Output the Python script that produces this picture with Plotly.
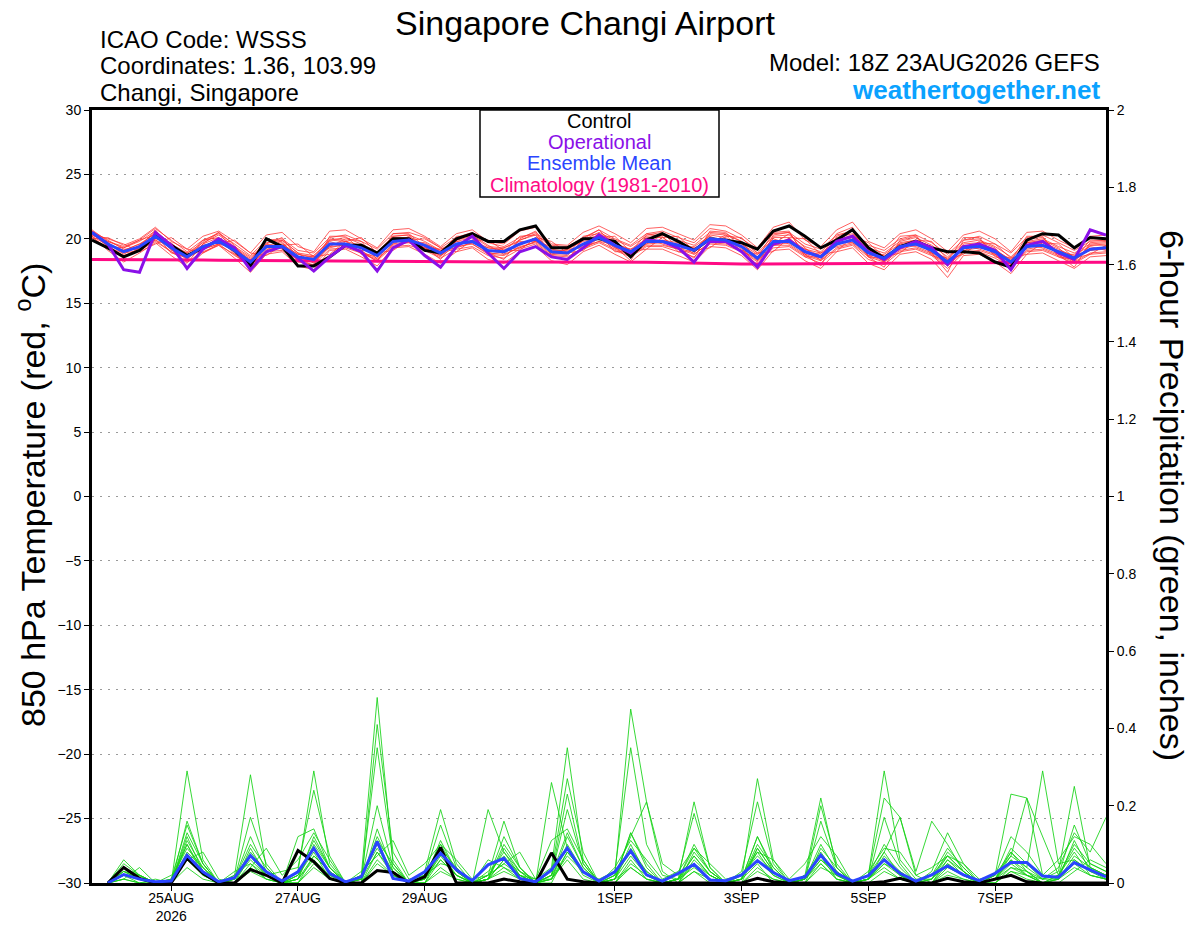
#Importing necessary modules.
import pandas as pd
import plotly.graph_objects as go

#Forecast valid times, every 6 hours from the 18Z 23AUG2026 GEFS run.
times        = pd.date_range("2026-08-23 18:00", periods=65, freq="6h")
precip_times = times[1:]

#850 hPa temperature (C).
t_control     = [19.9,19.3,18.6,19.1,20.2,19.5,18.7,19.3,19.9,19.1,
                 17.9,20.0,19.4,17.9,17.9,18.6,19.5,19.5,18.9,20.0,
                 20.0,19.1,18.9,20.0,20.4,19.8,19.8,20.7,21.0,19.3,
                 19.3,20.0,20.0,19.8,18.6,19.9,20.4,19.8,19.1,20.0,
                 19.9,19.7,19.2,20.6,21.0,20.2,19.3,19.9,20.7,19.3,
                 18.5,19.4,19.8,19.3,19.0,19.0,18.9,18.2,17.8,19.9,
                 20.4,20.3,19.3,20.1,20.0]
t_operational = [20.5,19.6,17.6,17.4,20.5,19.5,17.7,19.2,20.0,19.3,
                 17.6,19.0,19.4,18.5,17.5,18.6,19.5,19.0,17.5,19.3,
                 19.9,18.7,17.8,19.4,20.2,18.9,17.7,19.0,19.4,18.6,
                 18.4,19.3,20.3,19.5,18.9,19.9,19.8,19.3,18.2,19.8,
                 19.8,19.0,17.8,19.6,19.9,19.0,18.6,19.8,20.2,19.0,
                 18.4,19.3,19.8,19.3,18.0,19.4,19.6,19.1,17.6,19.5,
                 19.8,18.9,18.4,20.7,20.3]
t_mean        = [20.5,19.6,19.0,19.4,20.2,19.3,18.6,19.4,19.8,19.1,
                 18.2,19.4,19.4,18.6,18.4,19.6,19.6,19.3,18.7,19.8,
                 19.9,19.5,18.9,19.6,19.8,19.1,19.0,19.6,20.0,19.0,
                 18.9,19.6,20.1,19.5,19.0,19.8,19.8,19.5,19.1,20.0,
                 19.9,19.4,18.5,19.8,19.8,19.0,18.6,19.6,19.9,18.9,
                 18.5,19.4,19.6,19.1,18.2,19.3,19.4,19.0,18.2,19.4,
                 19.5,19.0,18.5,19.2,19.3]
t_climo       = [18.40,18.40,18.39,18.38,18.38,18.37,18.36,18.35,18.34,18.33,
                 18.32,18.31,18.30,18.29,18.28,18.27,18.26,18.25,18.25,18.24,
                 18.24,18.23,18.23,18.22,18.22,18.22,18.21,18.21,18.21,18.21,
                 18.21,18.22,18.22,18.22,18.21,18.19,18.16,18.13,18.10,18.08,
                 18.06,18.05,18.04,18.04,18.04,18.05,18.06,18.07,18.08,18.09,
                 18.10,18.11,18.12,18.13,18.14,18.15,18.16,18.17,18.17,18.18,
                 18.18,18.18,18.19,18.19,18.19]

#Ensemble members (temperature).
t_mem01 = [20.3,19.8,19.3,19.8,20.6,19.6,18.9,19.7,20.3,19.4,18.6,19.7,19.9,18.9,18.7,19.9,20.1,19.6,19.0,20.2,
           20.3,19.8,19.1,19.9,20.2,19.4,19.3,19.9,20.4,19.3,19.2,19.9,20.5,19.9,19.4,20.2,20.3,19.9,19.5,20.5,
           20.4,19.8,18.9,20.2,20.3,19.4,19.0,20.1,20.4,19.3,18.9,19.8,20.1,19.5,18.6,19.7,19.9,19.4,18.6,19.8,
           20.0,19.4,18.9,19.6,19.7]
t_mem02 = [20.4,19.4,18.7,19.1,19.9,19.0,18.2,19.0,19.5,18.8,17.8,19.0,19.1,18.2,18.0,19.2,19.3,18.9,18.3,19.4,
           19.5,19.1,18.5,19.2,19.4,18.7,18.5,19.2,19.6,18.6,18.4,19.2,19.7,19.1,18.6,19.4,19.4,19.0,18.6,19.6,
           19.5,19.0,18.0,19.3,19.4,18.6,18.1,19.2,19.5,18.4,18.0,19.0,19.2,18.7,17.7,18.9,19.0,18.5,17.8,19.0,
           19.1,18.6,18.1,18.8,18.9]
t_mem03 = [20.6,19.9,19.2,19.2,20.0,19.7,18.4,19.8,20.5,19.5,18.0,19.1,19.9,18.9,18.1,19.4,20.0,19.8,18.4,19.6,
           20.2,19.2,18.6,20.0,20.3,19.5,18.8,19.3,19.8,19.4,19.2,19.3,20.4,19.8,18.7,19.6,20.3,19.8,18.8,19.7,
           20.3,19.8,18.3,19.6,20.4,19.3,18.3,19.9,20.3,19.2,18.2,19.7,19.9,19.4,18.0,19.0,19.8,19.3,18.0,19.7,
           19.9,19.3,18.2,19.5,19.6]
t_mem04 = [20.2,19.5,19.1,19.6,20.4,19.1,18.8,19.2,19.6,19.3,18.5,19.6,19.2,18.4,18.7,19.8,19.4,19.1,19.0,19.9,
           19.7,19.3,19.2,19.8,19.6,18.9,19.3,19.8,19.8,18.8,19.2,19.8,20.0,19.3,19.2,20.0,19.6,19.2,19.4,20.2,
           19.7,19.1,18.8,20.0,19.6,18.8,18.9,19.8,19.7,18.7,18.8,19.6,19.4,18.9,18.5,19.5,19.2,18.8,18.5,19.6,
           19.3,18.8,18.8,19.4,19.1]
t_mem05 = [20.5,19.7,18.8,19.5,20.5,19.2,18.4,19.6,20.1,18.9,18.1,19.5,19.7,18.4,18.2,19.9,19.8,19.0,18.5,20.1,
           20.1,19.3,18.7,19.8,20.1,18.9,18.8,19.9,20.3,18.8,18.7,19.9,20.3,19.3,18.8,20.1,20.1,19.3,18.9,20.3,
           20.1,19.2,18.3,20.1,20.1,18.8,18.4,19.9,20.2,18.7,18.3,19.6,19.9,18.9,18.0,19.6,19.7,18.8,18.0,19.7,
           19.8,18.8,18.3,19.5,19.5]
t_mem06 = [20.7,19.8,19.4,19.9,20.8,19.9,19.0,19.9,20.4,19.6,18.7,19.9,20.0,19.1,18.9,20.1,20.3,19.8,19.2,20.4,
           20.5,20.1,19.3,20.1,20.5,19.7,19.4,20.1,20.5,19.5,19.4,20.1,20.7,20.0,19.5,20.4,20.6,20.1,19.7,20.8,
           20.6,20.0,19.2,20.4,20.5,19.6,19.2,20.3,20.6,19.5,19.1,20.0,20.3,19.7,18.8,19.9,20.2,19.6,18.9,20.1,
           20.3,19.7,19.1,19.8,19.9]
t_mem07 = [20.1,19.3,18.9,19.1,19.8,19.0,18.5,19.2,19.6,18.7,18.0,19.2,19.3,18.3,18.2,19.4,19.5,18.9,18.4,19.5,
           19.7,19.3,18.7,19.4,19.6,18.8,18.7,19.4,19.7,18.7,18.6,19.3,19.8,19.2,18.7,19.5,19.5,19.2,18.8,19.7,
           19.6,19.1,18.2,19.5,19.5,18.7,18.3,19.3,19.6,18.6,18.2,19.1,19.3,18.8,17.9,19.0,19.1,18.7,17.9,19.1,
           19.2,18.7,18.2,18.9,19.0]
t_mem08 = [20.4,19.6,19.1,19.6,20.1,19.5,18.7,19.3,19.9,19.3,18.3,19.3,19.6,18.8,18.5,19.5,19.8,19.5,18.8,19.8,
           19.8,19.7,19.0,19.5,19.9,19.3,19.1,19.5,20.1,19.2,19.0,19.5,20.0,19.7,19.1,19.7,19.9,19.7,19.2,19.9,
           19.9,19.6,18.6,19.6,20.0,19.2,18.7,19.5,20.0,19.1,18.6,19.3,19.7,19.3,18.3,19.2,19.6,19.2,18.3,19.3,
           19.7,19.2,18.6,19.1,19.4]
t_mem09 = [20.6,19.5,18.6,19.3,20.7,19.2,18.1,19.6,20.5,19.0,17.7,19.6,20.1,18.5,17.9,20.2,20.2,19.1,18.2,20.4,
           20.4,19.4,18.4,19.9,20.4,18.9,18.4,20.0,20.6,18.7,18.3,20.0,20.7,19.4,18.3,20.3,20.5,19.3,18.5,20.6,
           20.5,19.3,17.9,20.3,20.5,18.8,17.9,20.2,20.6,18.6,17.8,19.9,20.2,18.9,17.4,19.9,20.0,18.8,17.5,20.0,
           20.1,18.8,17.8,19.7,19.8]
t_mem10 = [20.3,19.7,19.0,19.3,19.9,19.4,18.9,19.5,19.7,19.2,18.4,19.3,19.5,18.8,18.6,19.3,19.6,19.5,18.9,19.6,
           19.8,19.6,19.1,19.3,19.7,19.3,19.2,19.3,19.8,19.1,19.1,19.4,19.8,19.6,19.2,19.6,19.7,19.6,19.3,19.8,
           19.8,19.6,18.8,19.5,19.7,19.2,18.9,19.4,19.7,19.0,18.7,19.2,19.5,19.2,18.4,19.1,19.3,19.1,18.4,19.2,
           19.4,19.1,18.7,19.1,19.2]
t_mem11 = [20.0,20.1,19.5,20.0,20.9,19.8,19.2,20.2,20.6,19.8,18.9,20.3,20.5,19.4,19.0,20.6,20.7,20.0,19.3,20.7,
           20.8,20.2,19.4,20.4,20.7,19.8,19.6,20.6,20.9,19.6,19.5,20.5,21.0,20.4,19.7,20.8,20.9,20.4,19.9,21.1,
           21.0,20.3,19.3,20.9,21.3,19.9,19.4,20.7,21.3,19.8,19.3,20.4,20.7,20.0,19.0,20.3,20.6,20.0,19.0,20.5,
           20.6,19.9,19.3,20.2,20.3]
t_mem12 = [20.2,19.1,18.2,18.9,19.7,18.7,17.8,18.9,19.5,18.5,17.4,18.8,19.0,17.9,17.6,19.1,19.2,18.6,17.9,19.3,
           19.4,18.8,18.1,19.0,19.3,18.4,18.1,19.0,19.4,18.3,18.0,19.0,19.5,18.8,18.2,19.2,19.2,18.7,18.2,19.4,
           19.3,18.7,17.6,19.1,19.2,18.3,17.7,19.0,19.3,18.1,17.6,18.8,19.0,18.4,17.0,18.7,18.8,18.2,17.3,18.8,
           18.9,18.3,17.7,18.6,18.7]
t_mem13 = [20.4,20.0,19.6,19.0,19.6,20.1,19.2,18.9,19.6,19.9,18.9,18.7,19.5,19.6,18.6,18.8,19.8,20.1,18.9,19.1,
           19.9,20.0,19.3,19.0,19.9,19.9,19.1,19.1,20.1,19.8,18.9,19.1,20.1,20.2,19.0,19.2,20.1,20.2,19.1,19.3,
           20.2,20.1,18.9,19.0,20.1,20.0,18.8,19.0,20.2,19.7,18.6,18.9,19.9,19.8,18.4,18.8,19.7,19.6,18.5,18.8,
           19.7,19.6,18.5,18.8,19.5]
t_mem14 = [20.6,19.4,19.3,19.9,20.3,18.9,18.6,19.9,20.1,18.8,18.3,19.9,19.8,18.3,18.5,20.0,19.9,18.8,18.7,20.2,
           20.3,19.2,18.9,20.2,20.2,18.8,19.0,20.2,20.3,18.9,18.8,20.2,20.4,19.0,19.0,20.4,20.2,19.0,19.1,20.4,
           20.3,19.0,18.5,20.5,20.6,18.6,18.6,20.4,20.9,18.6,18.5,20.2,20.3,18.7,18.3,20.1,20.1,18.6,18.3,20.2,
           20.2,18.6,18.4,19.9,19.9]
temp_members = [t_mem01, t_mem02, t_mem03, t_mem04, t_mem05, t_mem06, t_mem07,
                t_mem08, t_mem09, t_mem10, t_mem11, t_mem12, t_mem13, t_mem14]

#6-hour precipitation (inches), starting at hour 6.
p_control = [0, 0.04, 0.012, 0, 0, 0.064, 0.025, 0,
             0, 0.035, 0.02, 0, 0.084, 0.055, 0.012, 0,
             0, 0.032, 0.027, 0, 0.016, 0.092, 0, 0,
             0, 0.01, 0.003, 0, 0.078, 0.01, 0.003, 0,
             0, 0, 0, 0, 0, 0, 0, 0,
             0, 0.012, 0.003, 0, 0, 0, 0, 0,
             0, 0.003, 0.012, 0, 0, 0.012, 0.003, 0,
             0.01, 0.02, 0.003, 0, 0, 0, 0, 0]
p_mean    = [0, 0.022, 0.01, 0.003, 0.005, 0.072, 0.029, 0.003,
             0.014, 0.071, 0.029, 0.005, 0.029, 0.09, 0.025, 0.003,
             0.016, 0.107, 0.012, 0.005, 0.029, 0.077, 0.034, 0.006,
             0.047, 0.064, 0.012, 0.003, 0.034, 0.09, 0.029, 0.005,
             0.029, 0.083, 0.021, 0.005, 0.025, 0.048, 0.008, 0.006,
             0.021, 0.058, 0.027, 0.006, 0.016, 0.072, 0.025, 0.005,
             0.019, 0.06, 0.025, 0.005, 0.021, 0.044, 0.021, 0.006,
             0.025, 0.053, 0.053, 0.018, 0.015, 0.053, 0.034, 0.016]

#Ensemble members (precipitation).
p_mem01 = [0, 0.03, 0.01, 0, 0, 0.29, 0.06, 0,  0, 0.05, 0.01, 0, 0.02, 0.08, 0.01, 0,
           0.02, 0.48, 0.05, 0, 0.01, 0.06, 0.02, 0,  0.01, 0.04, 0.01, 0, 0.02, 0.09, 0.02, 0,
           0, 0.06, 0.01, 0, 0.01, 0.04, 0.01, 0,  0.01, 0.05, 0, 0, 0.02, 0.07, 0.01, 0,
           0.01, 0.06, 0.02, 0, 0, 0.03, 0.01, 0,  0.01, 0.05, 0.02, 0, 0.02, 0.08, 0.02, 0.01]
p_mem02 = [0, 0.01, 0, 0, 0.01, 0.09, 0.04, 0,  0.01, 0.12, 0.03, 0, 0, 0.05, 0.02, 0,
           0, 0.41, 0.08, 0.01, 0.02, 0.10, 0.03, 0,  0.03, 0.07, 0.02, 0, 0.01, 0.12, 0.04, 0,
           0.02, 0.45, 0.21, 0.03, 0, 0.05, 0.02, 0,  0, 0.09, 0.03, 0, 0.01, 0.05, 0.01, 0,
           0.02, 0.10, 0.04, 0, 0.01, 0.06, 0.02, 0,  0, 0.04, 0.03, 0.01, 0.01, 0.11, 0.03, 0.02]
p_mem03 = [0, 0.02, 0.01, 0, 0, 0.10, 0.02, 0,  0, 0.07, 0.02, 0, 0.03, 0.29, 0.05, 0,
           0.01, 0.35, 0.06, 0, 0, 0.04, 0.01, 0,  0.02, 0.05, 0.02, 0.01, 0.04, 0.35, 0.06, 0,
           0, 0.04, 0.01, 0, 0, 0.03, 0, 0,  0.01, 0.12, 0.03, 0, 0, 0.04, 0.02, 0,
           0, 0.03, 0.01, 0, 0.02, 0.07, 0.03, 0,  0.01, 0.06, 0.02, 0, 0, 0.03, 0.06, 0.04]
p_mem04 = [0, 0.05, 0.02, 0, 0, 0.12, 0.03, 0,  0.02, 0.28, 0.04, 0, 0, 0.07, 0.03, 0,
           0, 0.08, 0.02, 0, 0.02, 0.05, 0.04, 0,  0.01, 0.06, 0.03, 0, 0, 0.08, 0.03, 0.01,
           0.03, 0.35, 0.10, 0.02, 0.01, 0.09, 0.03, 0,  0, 0.04, 0.01, 0, 0.01, 0.06, 0.03, 0,
           0.01, 0.05, 0.03, 0, 0, 0.04, 0.02, 0,  0.02, 0.07, 0.04, 0.29, 0.05, 0.06, 0.03, 0.01]
p_mem05 = [0, 0.01, 0, 0, 0.01, 0.15, 0.05, 0,  0, 0.09, 0.02, 0.03, 0.04, 0.24, 0.07, 0,
           0.02, 0.10, 0.03, 0, 0, 0.08, 0.02, 0,  0.06, 0.04, 0.02, 0, 0.26, 0.09, 0.03, 0,
           0.01, 0.07, 0.02, 0, 0.01, 0.05, 0.01, 0,  0.02, 0.06, 0.02, 0, 0, 0.09, 0.04, 0,
           0.02, 0.29, 0.06, 0.01, 0.01, 0.07, 0.03, 0,  0, 0.03, 0.02, 0, 0.02, 0.10, 0.05, 0.03]
p_mem06 = [0, 0.03, 0.02, 0, 0, 0.07, 0.03, 0,  0.01, 0.06, 0.02, 0, 0.02, 0.11, 0.04, 0,
           0, 0.14, 0.03, 0, 0.01, 0.08, 0.03, 0,  0.01, 0.10, 0.04, 0, 0.03, 0.27, 0.08, 0,
           0.02, 0.08, 0.03, 0, 0, 0.06, 0.02, 0,  0.01, 0.27, 0.06, 0, 0.02, 0.08, 0.02, 0,
           0.01, 0.08, 0.02, 0, 0.01, 0.05, 0.02, 0,  0.01, 0.04, 0.02, 0.01, 0.03, 0.25, 0.04, 0.02]
p_mem07 = [0, 0.04, 0.01, 0, 0, 0.08, 0.04, 0,  0, 0.04, 0.01, 0, 0.01, 0.06, 0.02, 0,
           0.01, 0.20, 0.04, 0, 0.02, 0.09, 0.04, 0,  0.02, 0.08, 0.03, 0, 0.02, 0.23, 0.05, 0,
           0.01, 0.13, 0.04, 0, 0.01, 0.07, 0.02, 0,  0.01, 0.08, 0.02, 0, 0.02, 0.22, 0.04, 0,
           0.01, 0.06, 0.02, 0, 0, 0.06, 0.03, 0,  0.02, 0.23, 0.22, 0.02, 0.01, 0.07, 0.04, 0.02]
p_mem08 = [0, 0.02, 0.01, 0, 0, 0.11, 0.04, 0,  0.01, 0.10, 0.04, 0, 0.02, 0.09, 0.03, 0,
           0, 0.06, 0.02, 0, 0.03, 0.19, 0.05, 0,  0.19, 0.08, 0.02, 0, 0.01, 0.07, 0.03, 0,
           0, 0.05, 0.02, 0, 0.01, 0.21, 0.04, 0,  0.02, 0.07, 0.03, 0, 0.01, 0.10, 0.03, 0,
           0.02, 0.22, 0.17, 0.02, 0, 0.05, 0.02, 0,  0.01, 0.06, 0.03, 0, 0.01, 0.06, 0.03, 0.02]
p_mem09 = [0, 0.02, 0.02, 0, 0, 0.16, 0.05, 0,  0.01, 0.17, 0.05, 0, 0.01, 0.07, 0.03, 0,
           0.01, 0.08, 0.03, 0, 0, 0.06, 0.02, 0,  0.01, 0.06, 0.02, 0, 0.01, 0.10, 0.03, 0,
           0.01, 0.10, 0.02, 0, 0.01, 0.07, 0.02, 0,  0.03, 0.21, 0.05, 0, 0.01, 0.06, 0.02, 0,
           0.01, 0.07, 0.03, 0, 0.02, 0.09, 0.04, 0,  0.01, 0.07, 0.22, 0.12, 0.02, 0.09, 0.04, 0.02]
p_mem10 = [0, 0.03, 0.01, 0, 0.01, 0.10, 0.03, 0,  0.01, 0.08, 0.03, 0, 0.01, 0.12, 0.04, 0,
           0.02, 0.09, 0.03, 0, 0.01, 0.07, 0.02, 0,  0.01, 0.09, 0.03, 0.01, 0.01, 0.08, 0.03, 0,
           0.02, 0.12, 0.21, 0.05, 0.02, 0.18, 0.04, 0,  0.01, 0.09, 0.03, 0, 0.01, 0.20, 0.05, 0,
           0.01, 0.05, 0.02, 0, 0.01, 0.08, 0.04, 0,  0.02, 0.08, 0.04, 0.01, 0.04, 0.13, 0.08, 0.17]
p_mem11 = [0, 0.04, 0.02, 0, 0, 0.06, 0.02, 0,  0.03, 0.05, 0.02, 0, 0.01, 0.10, 0.04, 0,
           0.01, 0.12, 0.04, 0, 0.01, 0.11, 0.03, 0,  0.02, 0.16, 0.04, 0, 0.02, 0.19, 0.05, 0,
           0.01, 0.09, 0.03, 0, 0, 0.08, 0.03, 0,  0.01, 0.10, 0.04, 0, 0.01, 0.07, 0.02, 0,
           0.02, 0.08, 0.17, 0.03, 0.16, 0.10, 0.03, 0,  0.01, 0.08, 0.03, 0, 0.01, 0.05, 0.02, 0.01]
p_mem12 = [0, 0.06, 0.02, 0, 0, 0.13, 0.05, 0,  0.02, 0.07, 0.03, 0, 0.12, 0.14, 0.04, 0,
           0.01, 0.11, 0.05, 0, 0.02, 0.15, 0.04, 0,  0.01, 0.12, 0.04, 0, 0.02, 0.13, 0.04, 0,
           0.01, 0.13, 0.05, 0, 0.01, 0.10, 0.03, 0,  0.01, 0.12, 0.04, 0, 0.01, 0.16, 0.04, 0,
           0.01, 0.17, 0.05, 0, 0.03, 0.13, 0.05, 0,  0.01, 0.09, 0.05, 0.01, 0.02, 0.15, 0.05, 0.03]
p_mem13 = [0, 0.01, 0.04, 0, 0.02, 0.06, 0.08, 0.01,  0, 0.04, 0.09, 0.02, 0.06, 0.13, 0.06, 0,
           0.03, 0.07, 0.11, 0.02, 0.05, 0.10, 0.06, 0.01,  0.02, 0.05, 0.08, 0.01, 0.11, 0.14, 0.06, 0,
           0.04, 0.11, 0.06, 0.01, 0.03, 0.09, 0.05, 0.01,  0.02, 0.08, 0.06, 0.01, 0.05, 0.12, 0.07, 0,
           0.03, 0.09, 0.08, 0.02, 0.04, 0.07, 0.05, 0.01,  0.02, 0.12, 0.08, 0.02, 0.06, 0.12, 0.10, 0.05]
p_mem14 = [0, 0.02, 0, 0.01, 0, 0.04, 0.01, 0,  0, 0.03, 0.01, 0, 0, 0.04, 0.01, 0,
           0, 0.05, 0.02, 0, 0, 0.03, 0.01, 0,  0.01, 0.03, 0.01, 0, 0.01, 0.06, 0.01, 0,
           0.01, 0.04, 0.01, 0, 0, 0.03, 0.01, 0,  0, 0.03, 0.01, 0, 0, 0.05, 0.01, 0,
           0.01, 0.04, 0.01, 0, 0, 0.02, 0.01, 0,  0, 0.03, 0.01, 0, 0.01, 0.04, 0.02, 0.01]
precip_members = [p_mem01, p_mem02, p_mem03, p_mem04, p_mem05, p_mem06, p_mem07,
                  p_mem08, p_mem09, p_mem10, p_mem11, p_mem12, p_mem13, p_mem14]

#Date ticks on the x axis.
tick_days   = ["2026-08-25", "2026-08-27", "2026-08-29", "2026-09-01", "2026-09-03", "2026-09-05", "2026-09-07"]
tick_labels = ["25AUG<br>2026", "27AUG", "29AUG", "1SEP", "3SEP", "5SEP", "7SEP"]

#Quick sanity check on the series lengths.
for s in temp_members + [t_control, t_operational, t_mean, t_climo]:
    assert len(s) == len(times), len(s)
for s in precip_members + [p_control, p_mean]:
    assert len(s) == len(precip_times), len(s)

FONT = "Liberation Sans, Arial, Helvetica, sans-serif"

#Plotting the graph
fig = go.Figure()
for member in temp_members:
    fig.add_trace(go.Scatter(x=times, y=member, mode="lines",
                             line=dict(color="rgba(255,45,45,0.75)", width=1), hoverinfo="skip"))
fig.add_trace(go.Scatter(x=times, y=t_climo, mode="lines", line=dict(color="#ff0a84", width=3), name="Climatology"))
fig.add_trace(go.Scatter(x=times, y=t_control, mode="lines", line=dict(color="black", width=3), name="Control"))
fig.add_trace(go.Scatter(x=times, y=t_operational, mode="lines", line=dict(color="#8a10e8", width=3), name="Operational"))
fig.add_trace(go.Scatter(x=times, y=t_mean, mode="lines", line=dict(color="#2a45ff", width=3), name="Ensemble Mean"))

for member in precip_members:
    fig.add_trace(go.Scatter(x=precip_times, y=member, yaxis="y2", mode="lines",
                             line=dict(color="rgba(20,210,20,0.85)", width=1), hoverinfo="skip"))
fig.add_trace(go.Scatter(x=precip_times, y=p_control, yaxis="y2", mode="lines", line=dict(color="black", width=3)))
fig.add_trace(go.Scatter(x=precip_times, y=p_mean, yaxis="y2", mode="lines", line=dict(color="#2a45ff", width=3)))

#The page body adds an 8px offset, so the figure is a bit smaller than the window.
OFF = 8
W, H = 1192, 919
L, R, T, B = 84, 94, 102, 44
PW, PH = W - L - R, H - T - B
def px(x): return (x - OFF - L) / PW
def py(y): return (OFF + H - B - y) / PH

def text(s, x, y, size, xanchor="left", color="black", angle=0):
    fig.add_annotation(text=s, x=px(x), y=py(y), xref="paper", yref="paper", showarrow=False,
                       xanchor=xanchor, yanchor="middle", textangle=angle,
                       font=dict(family=FONT, size=size, color=color))

text("Singapore Changi Airport", 585, 23, 34, "center")
text("ICAO Code: WSSS", 98, 40, 24)
text("Coordinates: 1.36, 103.99", 98, 66, 24)
text("Changi, Singapore", 98, 93, 24)
text("Model: 18Z 23AUG2026 GEFS", 1102, 62, 24, "right")
text("<b>weathertogether.net</b>", 1102, 90, 26, "right", "#0aa2ff")
text("850 hPa Temperature (red, <sup>o</sup>C)", 30, 495, 34, "center", angle=-90)
text("6-hour Precipitation (green, inches)", 1172, 495, 34, "center", angle=90)

#Legend box
fig.add_shape(type="rect", xref="paper", yref="paper", x0=px(480), x1=px(719), y0=py(197), y1=py(110),
              line=dict(color="black", width=1.5), fillcolor="white", layer="above")
text("Control", 599, 121, 20, "center")
text("Operational", 599, 142, 20, "center", "#8a10e8")
text("Ensemble Mean", 599, 163, 20, "center", "#2a45ff")
text("Climatology (1981-2010)", 599, 185, 20, "center", "#ff0a84")

fig.update_layout(
    width=W, height=H,
    margin=dict(l=L, r=R, t=T, b=B),
    paper_bgcolor="white", plot_bgcolor="white",
    showlegend=False,
    font=dict(family=FONT, color="black"),
    xaxis=dict(type="date", range=[times[0], times[-1]], tickvals=tick_days, ticktext=tick_labels,
               ticks="outside", ticklen=5, tickcolor="black", showgrid=False, zeroline=False, automargin=False,
               ticklabelstandoff=-5,
               showline=True, linewidth=3, linecolor="black", mirror=True, tickfont=dict(size=14)),
    yaxis=dict(range=[-30, 30], dtick=5, ticks="outside", ticklen=5, tickcolor="black", automargin=False,
               showgrid=True, gridcolor="#9a9a9a", gridwidth=1, griddash="2px,6px", zeroline=False,
               showline=True, linewidth=3, linecolor="black", tickfont=dict(size=14)),
    yaxis2=dict(range=[0, 2], dtick=0.2, overlaying="y", side="right", ticks="outside", ticklen=5,
                tickcolor="black", showgrid=False, zeroline=False, automargin=False,
                showline=True, linewidth=3, linecolor="black", tickfont=dict(size=14)),
)

fig.write_html("out.html")
